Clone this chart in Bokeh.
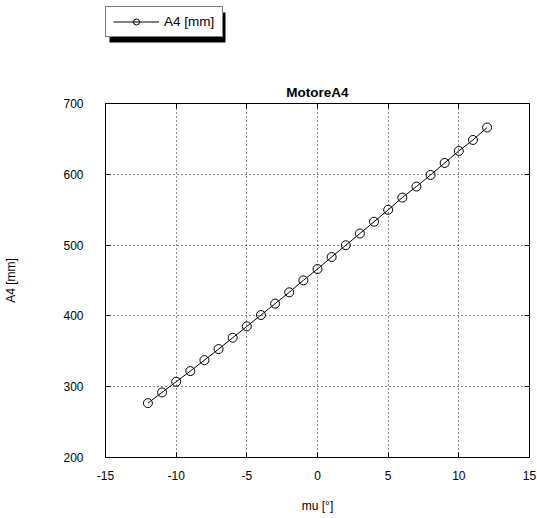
from bokeh.plotting import figure
from bokeh.layouts import column
from bokeh.models import (Range1d, FixedTicker, LinearAxis, Legend, LegendItem,
                          ColumnDataSource, BoxAnnotation)
from bokeh.embed import file_html
from bokeh.resources import INLINE

# ---- data ----
mu = [-12, -11, -10, -9, -8, -7, -6, -5, -4, -3, -2, -1, 0,
      1, 2, 3, 4, 5, 6, 7, 8, 9, 10, 11, 12]
a4 = [276.8, 291.9, 307.0, 322.0, 337.5, 353.1, 369.2, 385.2, 401.2, 417.3,
      433.3, 450.2, 466.2, 483.2, 499.8, 516.3, 533.0, 549.8, 567.1, 582.7,
      599.1, 616.0, 633.0, 648.5, 666.1]
x_ticks = [-15, -10, -5, 0, 5, 10, 15]
y_ticks = [200, 300, 400, 500, 600, 700]
title_text = "MotoreA4"
x_label = "mu [°]"
y_label = "A4 [mm]"
series_name = "A4 [mm]"

FONT = "Liberation Sans"
W = 537
TOP_H = 50
MAIN_H = 518 - TOP_H

src = ColumnDataSource(dict(mu=mu, a4=a4))

# ---------------- main chart ----------------
p = figure(width=W, height=MAIN_H, output_backend="svg", toolbar_location=None,
           x_range=Range1d(x_ticks[0], x_ticks[-1]),
           y_range=Range1d(y_ticks[0], y_ticks[-1]),
           min_border_left=105, min_border_right=8,
           min_border_top=103 - TOP_H, min_border_bottom=61,
           title=title_text)

p.background_fill_color = "white"
p.border_fill_color = "white"
p.outline_line_color = "black"
p.outline_line_width = 1

p.title.text_font = FONT
p.title.text_font_size = "13.5px"
p.title.text_font_style = "bold"
p.title.text_color = "black"
p.title.align = "center"
p.title.standoff = 8

def style_axis(ax, labels=True):
    ax.axis_line_color = "black"
    ax.major_tick_in = 5
    ax.major_tick_out = 0
    ax.major_tick_line_color = "black"
    ax.minor_tick_line_color = None
    if labels:
        ax.major_label_text_font = FONT
        ax.major_label_text_font_size = "12px"
        ax.major_label_text_color = "black"
        ax.axis_label_text_font = FONT
        ax.axis_label_text_font_size = "12px"
        ax.axis_label_text_font_style = "normal"
        ax.axis_label_text_color = "black"
    else:
        ax.major_label_text_font_size = "0px"
        ax.major_label_text_color = None
        ax.major_label_standoff = 0

p.xaxis.ticker = FixedTicker(ticks=x_ticks)
p.yaxis.ticker = FixedTicker(ticks=y_ticks)
p.xaxis.major_label_overrides = {t: str(t) for t in x_ticks}
p.yaxis.major_label_overrides = {t: str(t) for t in y_ticks}
p.xaxis.axis_label = x_label
p.yaxis.axis_label = y_label
style_axis(p.xaxis[0])
style_axis(p.yaxis[0])
p.xaxis.major_label_standoff = 13
p.xaxis.axis_label_standoff = 16
p.yaxis.major_label_standoff = 22
p.yaxis.axis_label_standoff = 42

top_ax = LinearAxis(ticker=FixedTicker(ticks=x_ticks))
right_ax = LinearAxis(ticker=FixedTicker(ticks=y_ticks))
style_axis(top_ax, labels=False)
style_axis(right_ax, labels=False)
p.add_layout(top_ax, "above")
p.add_layout(right_ax, "right")

for g in (p.xgrid, p.ygrid):
    g.grid_line_color = "black"
    g.grid_line_dash = "1 3"
    g.grid_line_width = 1
    g.grid_line_alpha = 0.9

p.line("mu", "a4", source=src, line_color="black", line_width=1)
p.scatter("mu", "a4", source=src, marker="circle", size=9,
          fill_color=None, line_color="black", line_width=1)

# ---------------- legend strip above the chart ----------------
top = figure(width=W, height=TOP_H, output_backend="svg", toolbar_location=None,
             x_range=Range1d(0, 1), y_range=Range1d(0, 1),
             x_axis_type=None, y_axis_type=None,
             min_border_left=0, min_border_right=0,
             min_border_top=0, min_border_bottom=0)
top.outline_line_color = None
top.xgrid.visible = False
top.ygrid.visible = False
top.border_fill_color = "white"
top.background_fill_color = "white"

# same series, only used as legend entries (its values fall outside this strip's ranges)
lg_line = top.line("mu", "a4", source=src, line_color="black", line_width=1)
lg_circ = top.scatter("mu", "a4", source=src, marker="circle", size=8,
                      fill_color=None, line_color="black", line_width=1)

# drop shadow of the legend box (screen units, relative to the strip's frame)
shadow = BoxAnnotation(left=4, right=120, bottom=8, top=38,
                       left_units="screen", right_units="screen",
                       bottom_units="screen", top_units="screen",
                       fill_color="black", fill_alpha=1, line_color=None)
top.add_layout(shadow)

legend = Legend(items=[LegendItem(label=series_name, renderers=[lg_line, lg_circ])],
                location=(0, 13))
legend.label_text_font = FONT
legend.label_text_font_size = "13.5px"
legend.label_text_color = "black"
legend.border_line_color = "black"
legend.border_line_width = 1
legend.background_fill_color = "white"
legend.background_fill_alpha = 1
legend.glyph_width = 46
legend.glyph_height = 15
legend.label_height = 14
legend.label_width = 51
legend.padding = 7
legend.margin = 0
legend.label_standoff = 5
legend.spacing = 0
top.add_layout(legend)

layout = column(top, p, spacing=0)
open("out.html", "w").write(file_html(layout, INLINE))
